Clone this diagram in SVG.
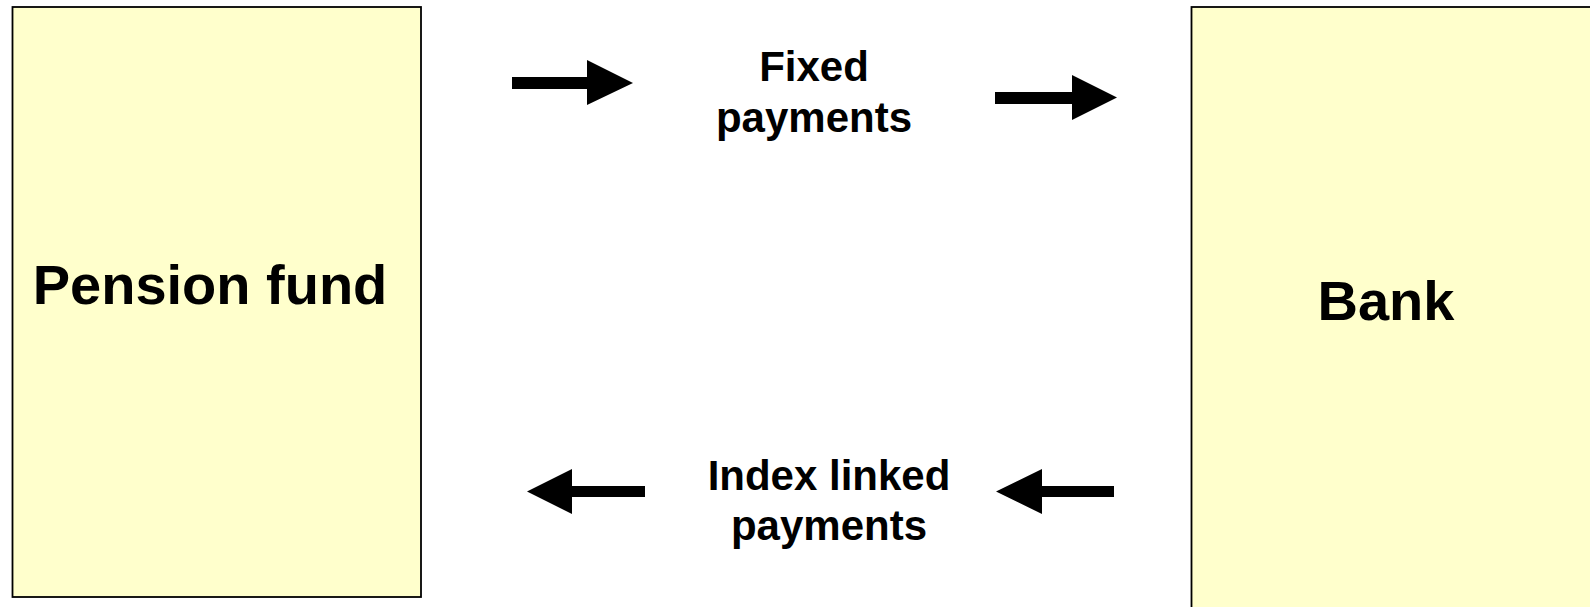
<svg xmlns="http://www.w3.org/2000/svg" width="1590" height="607" viewBox="0 0 1590 607">
<style>
.box{fill:#FFFFCC;stroke:#000;stroke-width:1.8}
.big{font-family:"Liberation Sans",Arial,sans-serif;font-weight:bold;font-size:56px;fill:#000;text-anchor:middle}
.lbl{font-family:"Liberation Sans",Arial,sans-serif;font-weight:bold;font-size:42px;fill:#000;text-anchor:middle}
.arr{fill:#000}
</style>
<rect width="1590" height="607" fill="#fff"/>
<g id="pension-fund">
<rect class="box" x="12.5" y="7" width="408.5" height="590"/>
<text class="big" x="210" y="304">Pension fund</text>
</g>
<g id="bank">
<rect class="box" x="1191.5" y="7" width="420" height="620"/>
<text class="big" x="1386" y="320">Bank</text>
</g>
<g id="connectors">
<polygon class="arr" points="512,77 587,77 587,60 633,83 587,105 587,89 512,89"/>
<polygon class="arr" points="995,92 1072,92 1072,75 1117,97.5 1072,120 1072,104 995,104"/>
<polygon class="arr" points="645,486 572,486 572,469 527,491.5 572,514 572,497 645,497"/>
<polygon class="arr" points="1114,486 1042,486 1042,469 996,491.5 1042,514 1042,497 1114,497"/>
</g>
<g id="label-fixed">
<text class="lbl" x="814" y="81">Fixed</text>
<text class="lbl" x="814" y="132">payments</text>
</g>
<g id="label-index">
<text class="lbl" x="829" y="490">Index linked</text>
<text class="lbl" x="829" y="540">payments</text>
</g>
</svg>
